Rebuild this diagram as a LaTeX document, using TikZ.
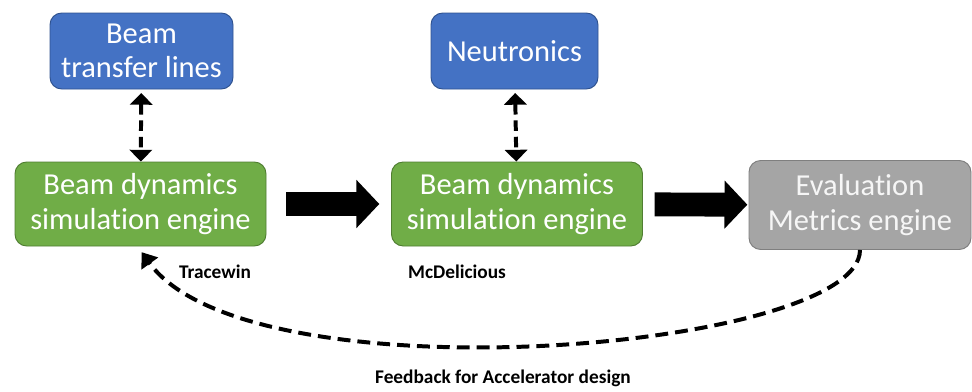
\documentclass[tikz,border=0pt]{standalone}
\usepackage{fontspec}
\setmainfont{Carlito}[Ligatures=NoCommon]
\usetikzlibrary{arrows.meta}
\definecolor{boxblue}{HTML}{4472C4}
\definecolor{blueedge}{HTML}{2F528F}
\definecolor{boxgreen}{HTML}{70AD47}
\definecolor{greenedge}{HTML}{507E32}
\definecolor{boxgray}{HTML}{A5A5A5}
\definecolor{grayedge}{HTML}{7F7F7F}
\tikzset{
  box/.style={draw, line width=0.8pt, rounded corners=10pt, text=white, align=center,
    inner sep=0pt, font=\fontsize{26}{29.5}\selectfont},
  bluebox/.style={box, fill=boxblue, draw=blueedge},
  greenbox/.style={box, fill=boxgreen, draw=greenedge, minimum width=251\unitpx, minimum height=84\unitpx},
  graybox/.style={box, fill=boxgray, draw=grayedge, text=white!93!gray, minimum width=222\unitpx, minimum height=89\unitpx},
  tool/.style={font=\bfseries\fontsize{16.5}{20}\selectfont},
  link/.style={line width=3.4pt, dash pattern=on 9pt off 5pt,
    {Triangle[length=10pt,width=19pt]}-{Triangle[length=10pt,width=19pt]}},
  flow/.style={line width=20.4pt, -{Triangle[length=19.5pt,width=40pt]}},
  feedback/.style={line width=3.4pt, dash pattern=on 11pt off 6pt, -{Triangle[length=12pt,width=17pt]}}
}
\newlength{\unitpx}
\setlength{\unitpx}{0.03cm}
\begin{document}
\begin{tikzpicture}[x=0.03cm,y=-0.03cm]
      \useasboundingbox (0,0) rectangle (972,392);
      %boxes
      \node[bluebox, minimum width=183\unitpx, minimum height=76\unitpx] (btl) at (141.5,51) {Beam\\transfer lines};
      \node[bluebox, minimum width=167\unitpx, minimum height=76\unitpx] (neu) at (514.5,51) {Neutronics};
      \node[greenbox] (bd1) at (140.5,204) {Beam dynamics\\simulation engine};
      \node[greenbox] (bd2) at (517,204) {Beam dynamics\\simulation engine};
      \node[graybox] (eval) at (860,205) {Evaluation\\Metrics engine};
      %etichette
      \node[tool] (tw) at (215,272) {Tracewin};
      \node[tool] (mcd) at (457,272) {McDelicious};
      \node[tool] (fb) at (503,378) {Feedback for Accelerator design};
      %frecce
      \draw[link, shorten <=3pt] (btl) -- (bd1);
      \draw[link, shorten <=3pt] (neu) -- (bd2);
      \draw[flow, shorten <=17pt, shorten >=10pt] (bd1) -- (bd2);
      \draw[flow, shorten <=10pt, shorten >=1pt] (bd2) -- (eval);
      \draw[feedback, shorten >=6pt] (eval.south) .. controls +(0,100) and +(112,155) .. ([xshift=-3\unitpx]bd1.south);
    \end{tikzpicture}
\end{document}
